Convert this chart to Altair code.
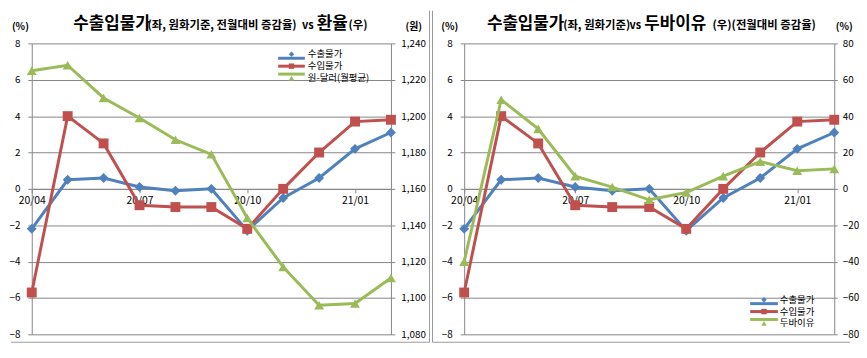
import altair as alt
import pandas as pd

# ---------------- data ----------------
months = ["20/04", "20/05", "20/06", "20/07", "20/08", "20/09",
          "20/10", "20/11", "20/12", "21/01", "21/02"]
export_price = [-2.2, 0.5, 0.6, 0.1, -0.1, 0.0, -2.3, -0.5, 0.6, 2.2, 3.1]
import_price = [-5.7, 4.0, 2.5, -0.9, -1.0, -1.0, -2.2, 0.0, 2.0, 3.7, 3.8]
krw_usd = [1225, 1228, 1210, 1199, 1187, 1179, 1144, 1117, 1096, 1097, 1111]
dubai = [-40, 49, 33, 7, 1, -6, -2, 7, 15, 10, 11]

names_left = ["수출물가", "수입물가", "원-달러(월평균)"]
names_right = ["수출물가", "수입물가", "두바이유"]
colors = ["#4F81BD", "#C0504D", "#9BBB59"]
shapes = ["diamond", "square", "triangle-up"]

pct_ticks = list(range(-8, 9, 2))
won_ticks = list(range(1080, 1241, 20))
dubai_ticks = list(range(-80, 81, 20))
month_tick_idx = [0, 3, 6, 9]

title_left = ["수출입물가", "(좌, 원화기준, 전월대비 증감율)", "vs", "환율", "(우)"]
title_right = ["수출입물가", "(좌, 원화기준)", "vs", "두바이유", "(우)(전월대비 증감율)"]

# ---------------- style ----------------
FONT = "Noto Sans CJK KR"
GRID = "#868686"
H = 294
W_LEFT = 363
W_RIGHT = 374
ONE = pd.DataFrame({"a": [0]})


def long_df(pairs):
    rows = []
    for name, vals in pairs:
        for i, (m, v) in enumerate(zip(months, vals)):
            rows.append({"idx": i, "month": m, "series": name, "value": v})
    return pd.DataFrame(rows)


label_expr = "[" + ",".join("'%s'" % m for m in months) + "][datum.value]"


def xenc():
    return alt.X(
        "idx:Q",
        scale=alt.Scale(domain=[0, len(months) - 1], nice=False, zero=False),
        axis=alt.Axis(values=month_tick_idx, labelExpr=label_expr, offset=-H / 2,
                      grid=False, title=None, domainColor=GRID, tickColor=GRID,
                      tickSize=4, labelPadding=3, labelFontSize=10.5, labelColor="#000",
                      labelFlush=False, labelFont=FONT),
    )


def color_enc(names):
    return alt.Color("series:N", scale=alt.Scale(domain=names, range=colors), legend=None)


def shape_enc(names):
    return alt.Shape("series:N", scale=alt.Scale(domain=names, range=shapes), legend=None)


def size_enc(names):
    return alt.Size("series:N", scale=alt.Scale(domain=names, range=[100, 100, 120]), legend=None)


def series_layers(df, names, domain, ticks, orient, grid, tick_size, label_pad, fmt=None):
    axis_kw = dict(values=ticks, orient=orient, grid=grid, gridColor=GRID, gridOpacity=1,
                   domainColor=GRID, tickColor=GRID, tickSize=tick_size,
                   labelPadding=label_pad, labelFontSize=10, labelFont=FONT,
                   labelColor="#000", title=None)
    if fmt:
        axis_kw["format"] = fmt
    ysc = alt.Scale(domain=domain, nice=False, zero=False)
    line = alt.Chart(df).mark_line(strokeWidth=3).encode(
        x=xenc(),
        y=alt.Y("value:Q", scale=ysc, axis=alt.Axis(**axis_kw)),
        color=color_enc(names),
        detail="series:N",
    )
    pts = alt.Chart(df).mark_point(filled=True, opacity=1).encode(
        x=xenc(),
        y=alt.Y("value:Q", scale=ysc, axis=None),
        color=color_enc(names),
        shape=shape_enc(names),
        size=size_enc(names),
    )
    return [line, pts]


def legend_layers(names, x0, x1, xt, rows):
    df = pd.DataFrame({"series": names})
    ysc = alt.Scale(domain=names, range=rows, padding=0)
    rule = alt.Chart(df).mark_rule(strokeWidth=3).encode(
        x=alt.value(x0), x2=alt.value(x1),
        y=alt.Y("series:N", scale=ysc, axis=None),
        color=color_enc(names),
    )
    pts = alt.Chart(df).mark_point(filled=True, opacity=1, size=30).encode(
        x=alt.value((x0 + x1) / 2),
        y=alt.Y("series:N", scale=ysc, axis=None),
        color=color_enc(names),
        shape=shape_enc(names),
    )
    txt = alt.Chart(df).mark_text(align="left", baseline="middle", fontSize=9.5,
                                  font=FONT, color="#000").encode(
        x=alt.value(xt),
        y=alt.Y("series:N", scale=ysc, axis=None),
        text="series:N",
    )
    return [rule, pts, txt]


def text_layer(text, x, y, size, align="left", weight="bold"):
    return alt.Chart(ONE).mark_text(align=align, baseline="alphabetic", fontSize=size,
                                    fontWeight=weight, font=FONT, color="#000").encode(
        x=alt.value(x), y=alt.value(y), text=alt.value(text))


def title_layers(segments, xs, sizes):
    return [text_layer(t, x, -15, s) for t, x, s in zip(segments, xs, sizes)]


def rule_layer(x, x2, y, y2):
    return alt.Chart(ONE).mark_rule(color="#9a9a9a", strokeWidth=1).encode(
        x=alt.value(x), x2=alt.value(x2), y=alt.value(y), y2=alt.value(y2))


BIG, SMALL, VS = 17, 11.5, 11

# ---------------- left panel ----------------
df_l_left = long_df([(names_left[0], export_price), (names_left[1], import_price)])
df_l_right = long_df([(names_left[2], krw_usd)])

left_layers = []
left_layers.append(alt.Chart(ONE).mark_rect(opacity=0).encode(
    x=alt.value(-21), x2=alt.value(402), y=alt.value(-33), y2=alt.value(H + 8)))
left_layers += series_layers(df_l_left, names_left, [-8, 8], pct_ticks, "left", True, 4, 8)
left_layers += series_layers(df_l_right, names_left, [1080, 1240], won_ticks, "right", False, 4, 6, ",d")
left_layers += legend_layers(names_left, 249, 276, 279, [11, 35])
left_layers += title_layers(title_left, [42, 117, 273, 288, 320], [BIG, SMALL, VS, BIG, SMALL])
left_layers.append(text_layer("(%)", -11.5, -14, 10, align="center"))
left_layers.append(text_layer("(원)", 386, -14, 10, align="center"))
left_layers.append(rule_layer(402, 402, -33, H + 8))
left_layers.append(rule_layer(-21, 402, H + 8, H + 8))

left = alt.layer(*left_layers).properties(width=W_LEFT, height=H).resolve_scale(y="independent")

# ---------------- right panel ----------------
df_r_left = long_df([(names_right[0], export_price), (names_right[1], import_price)])
df_r_right = long_df([(names_right[2], dubai)])

right_layers = []
right_layers += series_layers(df_r_left, names_right, [-8, 8], pct_ticks, "left", True, 4, 8)
right_layers += series_layers(df_r_right, names_right, [-80, 80], dubai_ticks, "right", False, 3, 5)
right_layers += legend_layers(names_right, 289, 317, 319, [259, 283])
right_layers += title_layers(title_right, [23, 100, 167, 182, 251], [BIG, SMALL, VS, BIG, SMALL])
right_layers.append(text_layer("(%)", -14.5, -14, 10, align="center"))
right_layers.append(text_layer("(%)", 384, -14, 10, align="center"))
right_layers.append(rule_layer(-32, -32, -33, H + 8))
right_layers.append(rule_layer(-32, 390, H + 8, H + 8))

right = alt.layer(*right_layers).properties(width=W_RIGHT, height=H).resolve_scale(y="independent")

chart = (
    alt.hconcat(left, right, spacing=74, bounds="flush")
    .resolve_scale(x="independent", y="independent", color="independent",
                   shape="independent", size="independent")
    .properties(padding=0, background="white")
    .configure_view(stroke=None)
)

chart.save("out.html", embed_options={"renderer": "svg", "actions": False})
